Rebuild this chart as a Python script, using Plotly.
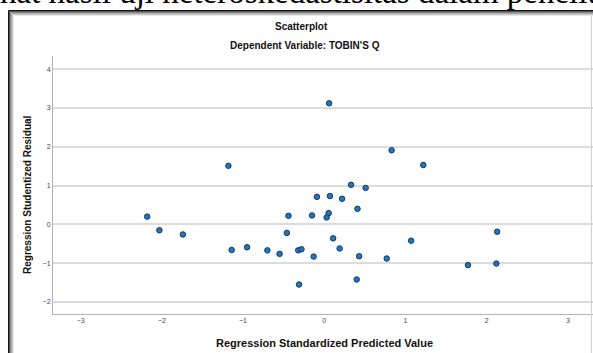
import plotly.graph_objects as go

# Data
pred_std = [0.06, 0.83, -1.18, 1.22, 0.33, 0.51, -0.09, 0.07, 0.22, 0.41,
            -0.44, -0.15, 0.055, 0.03, -1.74, -0.46, 0.11, 1.07, -1.14, -0.95,
            -0.70, -0.55, -0.32, -0.28, -0.13, 0.19, 0.43, 0.77, -0.31, 0.40,
            -2.18, -2.03, 2.13, 1.77, 2.12]
resid_stud = [3.12, 1.91, 1.51, 1.53, 1.02, 0.94, 0.71, 0.73, 0.66, 0.40,
              0.22, 0.23, 0.29, 0.18, -0.26, -0.22, -0.36, -0.42, -0.66, -0.59,
              -0.67, -0.76, -0.67, -0.64, -0.83, -0.62, -0.82, -0.88, -1.55, -1.42,
              0.20, -0.15, -0.19, -1.05, -1.01]
x_ticks = [-3, -2, -1, 0, 1, 2, 3]
y_ticks = [-2, -1, 0, 1, 2, 3, 4]

W, H = 593, 353
L, R, T, B = 53, 0, 56, 39
PW, PH = W - L - R, H - T - B


def xp(px):
    return (px - L) / PW


def yp(py):
    return (H - B - py) / PH


fig = go.Figure()
fig.add_trace(go.Scatter(
    x=pred_std, y=resid_stud, mode="markers",
    marker=dict(size=5.5, color="#1b78c6", line=dict(color="#1c3550", width=1)),
    showlegend=False, hoverinfo="x+y"))

font = "Liberation Sans, Arial, sans-serif"

fig.update_layout(
    width=W, height=H,
    margin=dict(l=L, r=R, t=T, b=B, autoexpand=False),
    paper_bgcolor="white", plot_bgcolor="white",
    xaxis=dict(range=[-3.34, 3.31], tickvals=x_ticks, showgrid=False,
               zeroline=False, showline=True, linecolor="#b4b4b4", linewidth=1,
               ticks="", tickfont=dict(size=7, color="#444", family=font)),
    yaxis=dict(range=[-2.31, 4.34], tickvals=y_ticks, showgrid=True,
               gridcolor="#dcdcdc", gridwidth=1.5, zeroline=False,
               showline=True, linecolor="#b4b4b4", linewidth=1,
               ticks="", tickfont=dict(size=7, color="#444", family=font)),
)

annotations = [
    dict(text="<b>Scatterplot</b>", x=xp(301), y=yp(26), font=dict(size=10, color="#111", family=font)),
    dict(text="<b>Dependent Variable: TOBIN'S Q</b>", x=xp(305), y=yp(46), font=dict(size=10, color="#111", family=font)),
    dict(text="<b>Regression Standardized Predicted Value</b>", x=xp(324), y=yp(343), font=dict(size=11, color="#111", family=font)),
    dict(text="<b>Regression Studentized Residual</b>", x=xp(27), y=yp(195), textangle=-90, font=dict(size=10, color="#111", family=font)),
]
for a in annotations:
    a.update(xref="paper", yref="paper", showarrow=False, xanchor="center", yanchor="middle")
fig.update_layout(annotations=annotations)

# cropped document text above the frame
fig.add_annotation(text="hat hasil uji heteroskedastisitas dalam penelitian",
                   xref="paper", yref="paper", x=xp(-2), y=yp(12.5),
                   xanchor="left", yanchor="bottom", showarrow=False,
                   font=dict(size=33, color="black", family="Liberation Serif, Times New Roman, serif"))

# frame with shadow
shapes = []
greys = ["#111111", "#555555", "#888888", "#aaaaaa", "#cccccc", "#e8e8e8"]
for i, c in enumerate(greys):
    shapes.append(dict(type="line", xref="paper", yref="paper",
                       x0=xp(8.5 + i), x1=xp(8.5 + i), y0=yp(10.5 + i), y1=yp(360),
                       line=dict(color=c, width=1)))
    shapes.append(dict(type="line", xref="paper", yref="paper",
                       x0=xp(8.5 + i), x1=xp(600), y0=yp(10.5 + i), y1=yp(10.5 + i),
                       line=dict(color=c, width=1)))
shapes.append(dict(type="line", xref="paper", yref="paper",
                   x0=xp(591.5), x1=xp(591.5), y0=yp(14), y1=yp(360),
                   line=dict(color="#d0d0d0", width=1)))
fig.update_layout(shapes=shapes)

fig.write_html("out.html", config={"displayModeBar": False},
               post_script="document.body.style.margin='0';document.body.style.overflow='hidden';")
